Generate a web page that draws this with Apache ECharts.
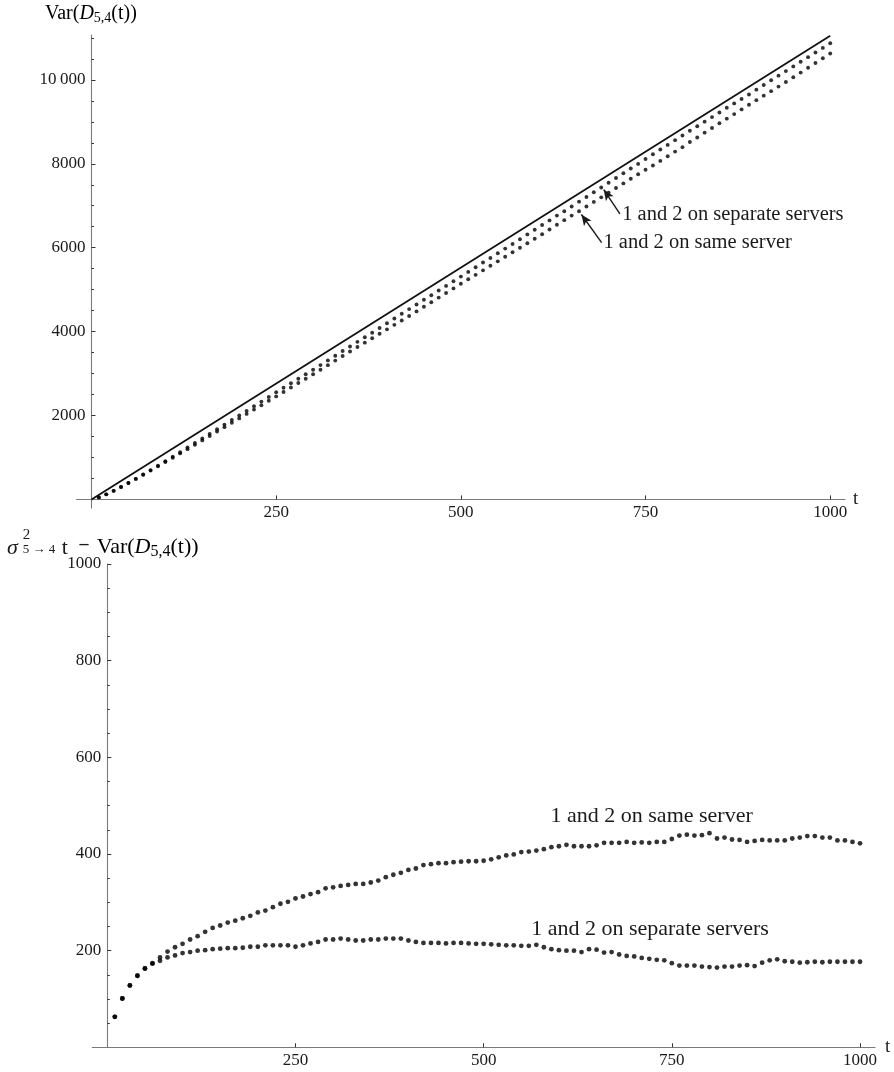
<!DOCTYPE html>
<html>
<head>
<meta charset="utf-8">
<script src="https://cdn.jsdelivr.net/npm/echarts@6.0.0/dist/echarts.min.js"></script>
<style>
html,body{margin:0;padding:0;background:#ffffff;}
#c{width:894px;height:1072px;}
</style>
</head>
<body>
<div id="c"></div>
<script>
// ---------------- data ----------------
const tValues = [
  10,20,30,40,50,60,70,80,90,100,
  110,120,130,140,150,160,170,180,190,200,
  210,220,230,240,250,260,270,280,290,300,
  310,320,330,340,350,360,370,380,390,400,
  410,420,430,440,450,460,470,480,490,500,
  510,520,530,540,550,560,570,580,590,600,
  610,620,630,640,650,660,670,680,690,700,
  710,720,730,740,750,760,770,780,790,800,
  810,820,830,840,850,860,870,880,890,900,
  910,920,930,940,950,960,970,980,990,1000
];
// bottom panel: sigma^2 t - Var(D(t))
const diffSame = [
  63,101,128,148,163,174,186,198,207,214,
  223,230,239,247,252,258,262,267,272,279,
  283,290,297,301,308,312,317,321,329,331,
  334,336,338,338,341,345,352,357,361,367,
  370,377,379,381,381,383,384,385,385,386,
  389,393,397,399,404,405,407,410,414,416,
  419,416,416,416,418,423,423,423,425,423,
  424,423,425,425,431,438,440,438,439,443,
  432,434,430,429,425,427,429,428,428,428,
  432,434,437,437,434,434,428,428,425,422
];
const diffSeparate = [
  63,101,128,148,163,173,179,186,190,195,
  197,200,201,203,204,205,205,206,208,208,
  211,211,211,211,208,211,215,218,223,223,
  225,223,221,221,223,223,225,225,225,221,
  218,216,216,216,215,216,216,215,214,214,
  213,212,211,211,210,210,212,207,203,201,
  200,200,197,203,202,196,197,192,189,188,
  185,183,181,180,174,169,169,169,167,166,
  165,167,167,169,170,168,175,180,182,178,
  177,175,176,177,176,177,177,177,177,177
];
// top panel: Var(D(t))
const varSame = [
  48,120,204,294,390,489,588,686,788,891,
  993,1096,1198,1300,1406,1510,1617,1722,1828,1931,
  2038,2141,2245,2351,2455,2561,2667,2773,2876,2984,
  3092,3200,3309,3419,3527,3633,3737,3842,3949,4053,
  4161,4264,4373,4481,4592,4700,4810,4919,5030,5139,
  5247,5353,5460,5568,5674,5783,5892,5999,6106,6214,
  6322,6435,6546,6656,6765,6870,6981,7091,7200,7312,
  7422,7533,7642,7752,7857,7960,8069,8181,8291,8397,
  8519,8627,8742,8853,8968,9076,9185,9296,9407,9517,
  9624,9732,9840,9950,10064,10174,10291,10401,10515,10628
];
const varSeparate = [
  48,120,204,294,390,490,595,698,805,910,
  1019,1126,1236,1344,1454,1563,1674,1783,1892,2002,
  2110,2220,2331,2441,2555,2662,2769,2876,2982,3092,
  3201,3313,3426,3536,3645,3755,3864,3974,4085,4199,
  4313,4425,4536,4646,4758,4867,4978,5089,5201,5311,
  5423,5534,5646,5756,5868,5978,6087,6202,6317,6429,
  6541,6651,6765,6869,6981,7097,7207,7322,7436,7547,
  7661,7773,7886,7997,8114,8229,8340,8450,8563,8674,
  8786,8894,9005,9113,9223,9335,9439,9544,9653,9767,
  9879,9991,10101,10210,10322,10431,10542,10652,10763,10873
];
const solidT = [0, 1000];
const solidVar = [0, 11050];

const topXTicks = [250, 500, 750, 1000];
const topXTickLabels = ['250', '500', '750', '1000'];
const topYTicks = [2000, 4000, 6000, 8000, 10000];
const topYTickLabels = ['2000', '4000', '6000', '8000', '10\u2009000'];
const topYMinorTicks = [500,1000,1500,2500,3000,3500,4500,5000,5500,6500,7000,7500,8500,9000,9500,10500,11000];
const botXTicks = [250, 500, 750, 1000];
const botXTickLabels = ['250', '500', '750', '1000'];
const botYTicks = [200, 400, 600, 800, 1000];
const botYTickLabels = ['200', '400', '600', '800', '1000'];
const botYMinorTicks = [50,100,150,250,300,350,450,500,550,650,700,750,850,900,950];

const labelSeparate = '1 and 2 on separate servers';
const labelSame = '1 and 2 on same server';

// ---------------- layout / style ----------------
const FONT = "'Liberation Serif','Times New Roman',Times,serif";
const INK = '#1a1a1a';
const DOT = '#000000';
const AXIS = '#7a7a7a';
const TICK = '#333333';

const X_MIN = -20, X_MAX = 1020;
const Y0_MIN = -205, Y0_MAX = 11070;
const Y1_MIN = 0, Y1_MAX = 1000;
const G0 = {left: 76.7, top: 35, width: 768.3, height: 473};
const G1 = {left: 92.25, top: 564, width: 782.8, height: 483.3};

const yOff0 = -(0 - X_MIN) / (X_MAX - X_MIN) * G0.width;
const xOff0 = -(0 - Y0_MIN) / (Y0_MAX - Y0_MIN) * G0.height;
const yOff1 = -(0 - X_MIN) / (X_MAX - X_MIN) * G1.width;
const xOff1 = -(0 - Y1_MIN) / (Y1_MAX - Y1_MIN) * G1.height;

function lookup(ticks, labels) {
  return v => { const i = ticks.indexOf(v); return i >= 0 ? labels[i] : ''; };
}

function xAxisCfg(gridIndex, offset, ticks, labels, nameGap) {
  return {
    type: 'value', gridIndex: gridIndex, min: X_MIN, max: X_MAX,
    position: 'bottom', offset: offset,
    axisLine: {show: true, onZero: false, lineStyle: {color: AXIS, width: 1.1}},
    axisTick: {show: true, inside: true, length: 4, customValues: ticks, lineStyle: {color: TICK, width: 1}},
    axisLabel: {show: true, customValues: ticks, margin: 5, fontFamily: FONT, fontSize: 17, color: INK,
                formatter: lookup(ticks, labels)},
    splitLine: {show: false},
    name: 't', nameLocation: 'end', nameGap: nameGap,
    nameTextStyle: {fontFamily: FONT, fontSize: 19, color: INK, verticalAlign: 'middle'}
  };
}
function yAxisMain(gridIndex, min, max, offset, ticks, labels) {
  return {
    type: 'value', gridIndex: gridIndex, min: min, max: max,
    position: 'left', offset: offset,
    axisLine: {show: true, onZero: false, lineStyle: {color: AXIS, width: 1.1}},
    axisTick: {show: true, inside: true, length: 4, customValues: ticks, lineStyle: {color: TICK, width: 1}},
    axisLabel: {show: true, customValues: ticks, margin: 6, fontFamily: FONT, fontSize: 17, color: INK,
                formatter: lookup(ticks, labels)},
    splitLine: {show: false}
  };
}
function yAxisMinor(gridIndex, min, max, offset, ticks) {
  return {
    type: 'value', gridIndex: gridIndex, min: min, max: max,
    position: 'left', offset: offset,
    axisLine: {show: false, onZero: false},
    axisTick: {show: true, inside: true, length: 2.5, customValues: ticks, lineStyle: {color: TICK, width: 1}},
    axisLabel: {show: false},
    splitLine: {show: false}
  };
}

function zip(xs, ys) { return xs.map((x, i) => [x, ys[i]]); }

function labelPoint(coord, text, size) {
  return {
    coord: coord,
    label: {show: true, formatter: text, position: 'right', distance: 0,
            fontFamily: FONT, fontSize: size, color: INK}
  };
}
function markPointCfg(items) {
  return {
    silent: true, animation: false, symbol: 'circle', symbolSize: 1,
    itemStyle: {color: 'rgba(0,0,0,0)'},
    data: items
  };
}
function arrowCfg(from, to) {
  return {
    silent: true, animation: false,
    symbol: ['none', 'arrow'],
    lineStyle: {color: INK, width: 1.4, type: 'solid'},
    label: {show: false},
    emphasis: {disabled: true},
    data: [[{coord: from, symbol: 'none'}, {coord: to, symbol: 'arrow', symbolSize: [7, 11]}]]
  };
}

const option = {
  animation: false,
  backgroundColor: '#ffffff',
  grid: [
    Object.assign({containLabel: false, outerBoundsMode: 'none'}, G0),
    Object.assign({containLabel: false, outerBoundsMode: 'none'}, G1)
  ],
  xAxis: [
    xAxisCfg(0, xOff0, topXTicks, topXTickLabels, 8),
    xAxisCfg(1, xOff1, botXTicks, botXTickLabels, 10)
  ],
  yAxis: [
    yAxisMain(0, Y0_MIN, Y0_MAX, yOff0, topYTicks, topYTickLabels),
    yAxisMinor(0, Y0_MIN, Y0_MAX, yOff0, topYMinorTicks),
    yAxisMain(1, Y1_MIN, Y1_MAX, yOff1, botYTicks, botYTickLabels),
    yAxisMinor(1, Y1_MIN, Y1_MAX, yOff1, botYMinorTicks)
  ],
  series: [
    {
      type: 'line', xAxisIndex: 0, yAxisIndex: 0, data: zip(solidT, solidVar),
      symbol: 'none', silent: true, lineStyle: {color: '#111111', width: 1.8}, z: 2
    },
    {
      type: 'scatter', xAxisIndex: 0, yAxisIndex: 0, data: zip(tValues, varSeparate),
      symbolSize: 3.9, itemStyle: {color: DOT}, silent: true, z: 3,
      markLine: arrowCfg([715.3, 6804], [693.4, 7385]),
      markPoint: markPointCfg([labelPoint([717.7, 6780], labelSeparate, 20.5)])
    },
    {
      type: 'scatter', xAxisIndex: 0, yAxisIndex: 0, data: zip(tValues, varSame),
      symbolSize: 3.9, itemStyle: {color: DOT}, silent: true, z: 3,
      markLine: arrowCfg([690.6, 6119], [663.2, 6791]),
      markPoint: markPointCfg([labelPoint([692.3, 6112], labelSame, 20.5)])
    },
    {
      type: 'scatter', xAxisIndex: 1, yAxisIndex: 2, data: zip(tValues, diffSame),
      symbolSize: 4.8, itemStyle: {color: DOT}, silent: true, z: 3,
      markPoint: markPointCfg([labelPoint([588.2, 478.6], labelSame, 22)])
    },
    {
      type: 'scatter', xAxisIndex: 1, yAxisIndex: 2, data: zip(tValues, diffSeparate),
      symbolSize: 4.8, itemStyle: {color: DOT}, silent: true, z: 3,
      markPoint: markPointCfg([labelPoint([562.5, 244.2], labelSeparate, 22)])
    }
  ],
  graphic: [
    {
      type: 'text', left: 45, top: 4, silent: true,
      style: {
        text: '{m|Var(}{i|D}{s|5,4}{m|(t))}',
        rich: {
          m: {fontFamily: FONT, fontSize: 20, lineHeight: 22, color: INK},
          i: {fontFamily: FONT, fontSize: 20, lineHeight: 22, fontStyle: 'italic', color: INK},
          s: {fontFamily: FONT, fontSize: 14, lineHeight: 15, verticalAlign: 'bottom', color: INK}
        }
      }
    },
    {
      type: 'text', x: 7, y: 548.4, silent: true,
      style: {text: 'σ', fontFamily: FONT, fontSize: 22, fontStyle: 'italic', fill: INK, verticalAlign: 'middle', align: 'left'}
    },
    {
      type: 'text', x: 22.7, y: 535.5, silent: true,
      style: {text: '2', fontFamily: FONT, fontSize: 15, fill: INK, verticalAlign: 'middle', align: 'left'}
    },
    {
      type: 'text', x: 22.7, y: 550, silent: true,
      style: {text: '5 → 4', fontFamily: FONT, fontSize: 13, fill: INK, verticalAlign: 'middle', align: 'left'}
    },
    {
      type: 'text', x: 61.7, y: 548.4, silent: true,
      style: {text: 't', fontFamily: FONT, fontSize: 22, fill: INK, verticalAlign: 'middle', align: 'left'}
    },
    {
      type: 'text', x: 79.5, y: 544.5, silent: true,
      style: {text: '–', fontFamily: FONT, fontSize: 18, fontWeight: 'bold', fill: INK, verticalAlign: 'middle', align: 'left'}
    },
    {
      type: 'text', left: 96.7, top: 536.4, silent: true,
      style: {
        text: '{m|Var(}{i|D}{s|5,4}{m|(t))}',
        rich: {
          m: {fontFamily: FONT, fontSize: 22, lineHeight: 24, color: INK},
          i: {fontFamily: FONT, fontSize: 22, lineHeight: 24, fontStyle: 'italic', color: INK},
          s: {fontFamily: FONT, fontSize: 16, lineHeight: 18, verticalAlign: 'bottom', color: INK}
        }
      }
    }
  ]
};

const chart = echarts.init(document.getElementById('c'), null, {renderer: 'canvas', width: 894, height: 1072});
chart.setOption(option);
</script>
</body>
</html>
